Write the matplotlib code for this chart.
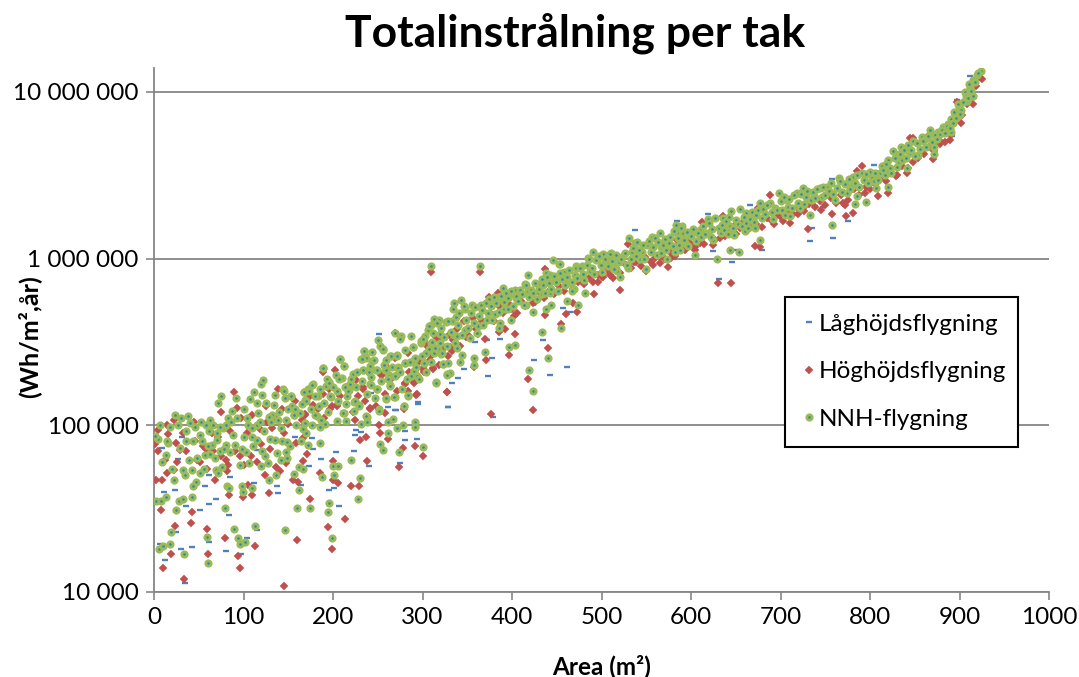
import numpy as np
import matplotlib
matplotlib.use("Agg")
import matplotlib.pyplot as plt

plt.rcParams['font.family'] = ['Lato', 'DejaVu Sans']

# (area m2, kWh/m2 per year)
nnh = [(6,18),(10,19),(18,19.5),(19,23),(33,17),(59,21.5),(60,15),(89,24),(94,21),(96,19.5),(102,20),(113,25),
(146,23.5),(195,34),(194,30),(199,21),(160,32),(174,32),(79,32),(25,31),(28,35),(32,36),(42,37),(2,35),(8,35),
(13,37),(228,36),(162,41),(99,40),(98,43),(110,42),(82,43),(84,42),(47,46),(44,43),(22,47),
(9,60),(13,66),(20,55),(32,54),(35,50),(43,54),(51,52),(56,55),(39,62),(48,64),(57,66),(63,67),(68,64),(69,54),
(72,52),(76,56),(106,59),(120,57),(127,59),(124,65),(136,50),(128,47),(156,51),(162,56),(167,55),(149,64),(137,68),
(147,69),(103,69),(85,69),(74,70),(188,49),(201,50),(200,57),(206,57),(220,62),(230,48),(274,69),(300,74),(252,77),
(256,71),(186,78),(172,76),(143,81),(149,79),(130,83),(111,75),(109,85),(91,76),(81,76),(65,76),(54,81),(36,80),
(29,73),(16,78),(5,83),(1,86),(14,81),(88,87),(51,88),(62,93),(77,96),
(7,100),(23,115),(30,111),(38,113),(40,103),(18,97),(27,100),(36,92),(46,97),(53,105),(63,108),(66,100),(74,98),
(81,100),(83,111),(87,121),(71,136),(75,149),(92,145),(93,110),(101,125),(104,111),(107,143),(112,158),(115,136),
(116,119),(120,178),(122,187),(121,152),(125,136),(132,116),(135,152),(134,133),(138,107),(144,165),(146,145),
(153,150),(154,130),(158,125),(156,116),(142,96),(123,93),(115,100),(159,100),(166,95),(170,90),(176,100),(169,103),
(185,98),(191,102),(182,114),(187,108),(168,159),(169,141),(178,178),(172,165),(190,136),(198,148),(192,171),
(189,221),(208,250),(212,227),(203,200),(210,191),(196,182),(219,178),(218,163),(216,150),(223,138),(229,133),
(223,121),(212,118),(204,106),(214,106),(231,102),(238,112),(238,105),(251,125),(262,105),(267,109),(271,96),
(261,90),(278,100),(292,104),(292,97),(279,131),(284,150),(259,143),(269,148),(264,174),(249,165),(241,176),
(222,203),(227,209),(233,215),(240,214),(248,215),(258,215),(263,200),(270,200),(273,225),(280,235),(290,213),
(294,197),(315,181),(302,235),(291,246),(281,284),(289,294),(271,265),(264,262),(256,283),(253,298),(244,244),
(241,228),(235,280),(236,260),(231,250),(298,313),(310,313),(321,267),(327,202),(323,232),(313,272),
(309,900),(364,900),(446,980),(453,925),(418,800),(390,670),(414,700),(335,545),(343,565),(334,500),(348,495),
(355,525),(365,525),(374,575),(384,590),(391,500),(387,410),(385,385),(399,430),(403,305),(397,295),(433,365),
(440,255),(455,385),(423,160),(419,215),(370,275),(357,255),(358,230),(342,240),(331,207),(327,200),(315,180),
(328,235),(323,232),(344,265),(339,290),(353,335),(347,375),(362,395),(372,430),(381,465),(403,650),(398,610),
(416,530),(424,480),(438,500),(444,530),(433,610),(442,625),(438,815),(443,800),(458,825),(461,560),(469,660),
(474,530),(472,900),(448,745),(431,700),(418,640),(405,580),(389,575),(313,435),(318,430),(310,400),(306,375),
(333,425),(326,415),(335,350),(338,345),(320,355),(311,315),(303,345),(298,320),(317,285),(322,270),(302,235),
(292,255),(287,345),(276,345),(269,358),(275,330),(250,325),(256,285),(235,280),(244,275),(237,255),(232,250),
(246,245),(265,260),(272,260),(289,295),(281,235),(273,220),(259,245),(208,250),(212,228),(189,222),(233,215),
(240,210),(249,215),(259,215),(269,198),(263,198),(290,213),(294,197),(287,197),(264,172),(284,152),(268,148),
(259,145),(279,130),(249,165),(242,175),(219,178),(207,190),(193,190),(196,180),(177,175),(173,160),(168,158),
(183,150),(197,150),(217,160),(205,160),(170,140),(153,150),(145,160),(225,140),(229,130),(251,122),(211,118),
(237,113),(180,116),(156,115),
(454,930),(457,785),(465,715),(472,880),(478,900),(467,640),(482,625),(491,1100),(485,1010),(502,1070),(511,1080),
(495,990),(487,840),(506,940),(515,880),(521,770),(517,840),(530,880),(524,1030),(534,1090),(531,1330),(537,1240),
(543,990),(550,865),(545,1100),(551,1210),(556,1350),(565,1420),(571,1310),(562,1050),(573,1000),(582,1100),
(567,1180),(588,1120),(583,1600),(590,1570),(594,1230),(584,1420),(591,1420),(599,1390),(604,1050),(610,1480),
(619,1730),(618,1420),(625,1300),(631,1520),(629,1000),(636,1750),(645,1920),(644,1560),(644,1130),(654,1090),
(648,1390),(655,1990),(660,1460),(664,1520),(671,1520),(677,1300),(662,1870),(677,2150),(688,2150),(698,2480),
(692,1720),(705,1830),(711,1790),(707,2250),(718,2480),(725,2650),(722,2010),(733,1830),(757,1590),(737,2370),
(744,2650),(761,2250),(752,2700),(765,3050),(774,2490),(783,2120),(785,2370),(796,2180),(780,2720),(781,3090),
(791,3240),(800,3300),(807,2650),(820,2700),(811,3260),(813,3570),(820,3910),(826,4400),(832,3780),(841,3480),
(835,4700),(845,4290),(848,5100),(854,4200),(858,5370),(861,5200),(867,5880),(871,4640),(871,4230),(876,5750),
(882,6170),(887,6450),(891,5720),(891,6900),(895,7400),(899,8120),(902,7750),(906,10000),(908,8800),(915,9500),
(912,10700),(915,11800),(919,12700),(924,13400)]

# dense part of the band
nnh_band = [(301,330),(304,270),(307,395),(309,240),(312,360),(314,290),(316,410),(319,310),(321,385),(324,340),(327,300),
(329,420),(332,365),(336,310),(337,445),(340,400),(341,470),(344,350),(346,520),(349,430),(351,385),(354,470),(357,410),
(359,510),(361,360),(363,450),(366,490),(368,400),(371,540),(373,470),(376,520),(378,430),(380,590),(382,540),(385,480),
(388,600),(391,550),(393,620),(395,500),(396,580),(399,640),(401,520),(404,600),(407,560),(409,650),(411,610),(413,530),
(416,690),(419,590),(421,650),(423,620),(426,710),(428,570),(430,660),(433,750),(435,690),(437,620),(439,770),(441,710),
(444,660),(447,790),(449,720),(451,640),(454,820),(456,750),(459,690),(462,780),(464,850),(467,720),(470,800),(473,760),
(476,880),(479,810),(481,740),(484,920),(486,1000),(489,880),(492,810),(494,980),(497,1040),(499,920),(501,830),(504,1000),
(507,900),(509,1060),(512,970),(514,870),(516,1050),(519,950),(522,1000),(526,1080),(528,920),(533,1000),(535,1150),
(538,1040),(540,1260),(542,1120),(546,1200),(548,1000),(553,1280),(555,1090),(558,1170),(560,1320),(563,1250),(566,1080),
(569,1210),(572,1130),(575,1240),(577,1340),(580,1190),(581,1470),(585,1330),(587,1200),(589,1530),(592,1300),(595,1450),
(597,1190),(600,1360),(602,1500),(606,1280),(608,1430),(611,1340),(613,1560),(616,1400),(620,1640),(622,1350),(624,1500),
(627,1740),(633,1420),(635,1600),(637,1480),(639,1680),(641,1400),(643,1780),(647,1520),(650,1700),(652,1620),(657,1560),
(659,1780),(661,1640),(666,1720),(668,1900),(670,1650),(673,1820),(675,1950),(679,1760),(681,1980),(683,1850),(685,2100),
(690,1900),(694,2020),(696,1960),(700,2200),(702,1950),(704,2350),(708,2050),(710,2280),(713,2000),(715,2400),(720,2150),
(723,2450),(726,2120),(728,2350),(730,2550),(734,2250),(736,2500),(739,2300),(741,2600),(746,2350),(748,2700),(750,2420),
(754,2550),(756,2820),(759,2450),(763,2650),(767,2900),(769,2500),(772,2800),(776,3000),(778,2620),(783,2850),(786,3150),
(788,2700),(793,2950),(795,3200),(798,2850),(802,3050),(804,2900),(806,3250),(809,2950),(815,3400),(817,3150),(818,3700),
(822,3500),(824,3250),(828,4000),(830,3550),(834,4250),(836,3900),(838,4500),(840,4000),(843,4800),(846,4500),(850,4100),
(852,4900),(856,4550),(859,5100),(863,4700),(865,5400),(869,5000),(873,5500),(875,5200),(878,5600),(880,5900),(884,5700),
(886,6200),(889,6100),(893,6500),(894,7600),(896,7000),(898,8400),(900,7400),(904,8700),(907,9500),(910,9200),(911,11200),
(913,10100),(917,11500),(921,12900),
(58,100),(70,90),(86,104),(100,85),(105,100),(110,96),(118,105),(128,112),(131,104),(140,120),(148,108),(150,125),(163,118),
(165,135),(175,125),(180,150),(184,130),(186,165),(194,120),(200,170),(206,140),(213,170),(215,135),(220,190),(226,170),
(232,185),(238,155),(243,195),(247,145),(254,185),(257,230),(262,190),(266,225),(275,210),(277,165),(283,190),(286,240),
(293,225),(296,190),(299,260),(304,210),(307,285),(44,80),(60,75),(70,82),(78,72),(96,58),(98,72),(115,82),(121,70),
(135,82),(142,62),(152,75),(164,80)]

hog = [(10,14),(33,12),(96,14),(145,10.8),(19,17),(23,25),(41,26),(59,24),(60,17),(79,21),(94,16.5),(113,19),
(160,20.5),(199,18),(194,24.5),(213,27.5),(8,31),(42,30),(2,47),(9,47),(14,52),(22,54),(84,38),(99,37),(110,38),
(128,39),(174,36),(105,44),(68,47),(124,50),(155,47),(161,46),(186,52),(200,47),(206,45),(220,43),(229,43),(238,61),
(274,56),(200,61),(167,61),(171,67),(136,56),(141,53),(148,59),(80,62),(83,58),(82,53),(51,60),(59,55),(26,60),
(12,62),(5,70),(29,71),(46,80),(55,75),(1,77),(96,65),(108,65),(120,77),(159,78),(166,84),(5,94),(16,89),(25,78),
(22,108),(89,158),(75,120),(93,127),(104,90),(126,105),(132,96),(139,165),(169,116),(178,133),(189,153),(204,133),
(199,130),(241,127),(258,118),(251,100),(252,90),(262,83),(230,82),(237,85),(225,107),(234,170),(281,178),(290,180),
(293,152),(279,125),(312,218),(327,158),(302,209),(278,73),(292,75),(300,65),
(169,117),(205,130),(197,125),(241,126),(234,165),(258,155),(280,180),(290,182),(294,155),(284,160),(302,216),
(312,220),(327,158),(371,248),(357,224),(362,355),(397,265),(403,355),(392,380),(385,365),(418,190),(423,123),
(440,290),(376,117),(309,830),(364,830),(460,465),(473,480),(455,405),(468,545),(437,860),(437,460),(402,455),
(269,360),(189,210),(202,215),(226,187),(254,200),(302,320),(320,320),(331,295),(329,260),(308,245),(334,325),
(349,340),(374,590),(384,625),(424,540),(269,255),(284,270),(260,225),
(521,650),(492,610),(496,720),(550,840),(574,890),(558,920),(530,1230),(536,960),(604,1130),(594,1150),(610,1240),
(625,1210),(645,715),(630,710),(671,1190),(677,1170),(632,1330),(649,1600),(658,1660),(668,1660),(693,1620),
(703,1670),(711,1640),(720,1860),(731,1500),(729,2090),(745,1950),(757,1840),(773,1790),(781,1880),(772,2090),
(794,2480),(809,2380),(820,2470),(829,3120),(841,3250),(870,3960),(878,4850),(889,5160),(902,6510),(915,8500),
(925,11900),(688,2390),(791,3570),(845,5250),(897,8750),(692,1840),(513,760),(502,780),(519,830),(565,940),
(578,1010),(599,1230),(584,1300),(640,1490),(770,2160)]

hog_band = [(300,220),(305,300),(310,260),(315,340),(318,230),(324,290),(330,350),(333,280),(338,380),(342,300),(346,420),
(351,350),(356,440),(360,380),(366,420),(370,330),(375,470),(380,420),(385,520),(390,470),(395,540),(400,500),(406,470),
(410,560),(415,520),(420,590),(426,550),(431,620),(436,580),(441,640),(447,610),(452,680),(458,640),(463,700),(468,660),
(474,720),(480,700),(486,760),(490,720),(496,800),(501,770),(506,850),(510,800),(516,880),(521,820),(527,920),(533,880),
(539,950),(544,900),(549,1020),(555,960),(560,1010),(566,1050),(571,1000),(577,1100),(582,1030),(588,1150),(593,1120),
(598,1250),(604,1180),(609,1290),(615,1220),(621,1360),(627,1300),(633,1430),(638,1370),(644,1480),(650,1400),(655,1530),
(661,1470),(667,1560),(673,1620),(679,1540),(685,1740),(690,1680),(696,1820),(702,1760),(708,1950),(714,1850),(720,2000),
(726,1920),(732,2130),(738,2050),(744,2220),(750,2100),(756,2320),(762,2150),(768,2400),(775,2250),(782,2600),(788,2400),
(795,2700),(800,2600),(806,2800),(812,3050),(818,2900),(824,3300),(830,3150),(836,3600),(842,3500),(848,3800),(854,4000),
(860,4250),(866,4700),(872,4400),(878,5100),(884,5000),(890,5500),(896,7000),(903,7300),(908,8400),(912,9500),(918,10800),
(922,12300),(612,1650),(636,1800),(675,2000),(785,3350),(830,4200),(848,5300),
(15,100),(32,90),(45,105),(58,72),(65,90),(72,85),(85,92),(97,110),(110,115),(118,95),(125,130),(135,110),(143,125),
(150,102),(157,140),(165,108),(174,150),(183,125),(190,110),(195,165),(208,150),(215,170),(222,120),(228,150),(236,140),
(243,175),(248,130),(255,200),(265,190),(272,160),(285,210),(296,240),(36,70),(48,62),(66,70),(75,65),(90,70),(100,58),
(115,60),(130,72),(145,90)]

lag = [(12,15.5),(35,11.3),(43,18.5),(30,18),(7,19.5),(25,23),(81,17.5),(97,17),(104,21),(115,23.5),(61,20),(51,31),
(62,33.5),(69,36),(84,29),(36,33),(11,40),(23,41),(57,43),(139,39),(137,43),(196,41),(201,42),(207,33),(164,44),
(112,45),(85,49),(62,50),(173,57),(187,63),(223,70),(203,69),(240,57),(275,59),(178,72),(177,84),(158,85),(226,94),
(231,91),(225,88),(280,82),(294,83),(280,93),(9,73),(27,63),(31,85),(115,71),(328,129),(295,137),(270,123),(243,156),
(329,128),(295,135),(269,123),(261,128),(340,192),(333,179),(346,217),(373,197),(378,253),(372,325),(359,315),
(442,200),(462,225),(425,245),(435,325),(387,330),(251,354),(457,505),(465,480),(379,112),
(537,1480),(625,1105),(646,955),(631,750),(649,1130),(679,1120),(733,1270),(759,1330),(775,1670),(584,1670),
(619,1860),(666,2100),(804,3650),(897,8900),(912,12400),(735,1520),(748,2040),(738,2080),(892,5400),(757,3020)]

x_ticks = [0,100,200,300,400,500,600,700,800,900,1000]
y_ticks = [10000,100000,1000000,10000000]
y_labels = ["10 000","100 000","1 000 000","10 000 000"]

fig = plt.figure(figsize=(10.79,6.77),dpi=100)
ax = fig.add_axes([154/1079,1-592/677,895/1079,524/677])

x,y = zip(*lag)
ax.plot(x,np.array(y)*1000,ls="none",marker="_",ms=3.8,mew=1.7,color="#4F81BD",label="Låghöjdsflygning",zorder=3)
x,y = zip(*(hog+hog_band))
ax.plot(x,np.array(y)*1000,ls="none",marker="D",ms=4.4,mew=0.3,color="#C0504D",label="Höghöjdsflygning",zorder=4)
x,y = zip(*(nnh+nnh_band))
ax.plot(x,np.array(y)*1000,ls="none",marker="o",ms=3.9,mew=2,mfc="#2F8AA6",mec="#9BBB59",label="NNH-flygning",zorder=5)

ax.set_yscale("log")
ax.set_xlim(0,1000)
ax.set_ylim(10000,10**7.143)
ax.set_xticks(x_ticks)
ax.set_yticks(y_ticks,y_labels)
ax.minorticks_off()
ax.yaxis.grid(True,color="#868686",lw=1.3)
ax.set_axisbelow(True)
ax.tick_params(labelsize=17.5,length=6,width=1.2,color="#868686",pad=5)
for s in ["top","right"]:
    ax.spines[s].set_visible(False)
for s in ["left","bottom"]:
    ax.spines[s].set_color("#868686")
    ax.spines[s].set_linewidth(1.3)

fig.text(575/1079,1-33/677,"Totalinstrålning per tak",fontsize=32,fontweight="bold",ha="center",va="center")
fig.text(602/1079,1-666/677,"Area (m²)",fontsize=17.5,fontweight="bold",ha="center",va="center")
fig.text(29/1079,1-337/677,"(Wh/m²,år)",fontsize=18,fontweight="bold",ha="center",va="center",rotation=90)

leg = ax.legend(loc="upper left",bbox_to_anchor=((785-154)/895,(592-302)/524,(1018-785)/895,0.01),
    fontsize=17.5,frameon=True,fancybox=False,framealpha=1,edgecolor="black",borderpad=0.7,labelspacing=1.09,
    handlelength=0.6,handletextpad=0.1,borderaxespad=0,mode="expand")
leg.get_frame().set_linewidth(1.5)
leg.set_zorder(10)

fig.savefig("out.png",dpi=100)
